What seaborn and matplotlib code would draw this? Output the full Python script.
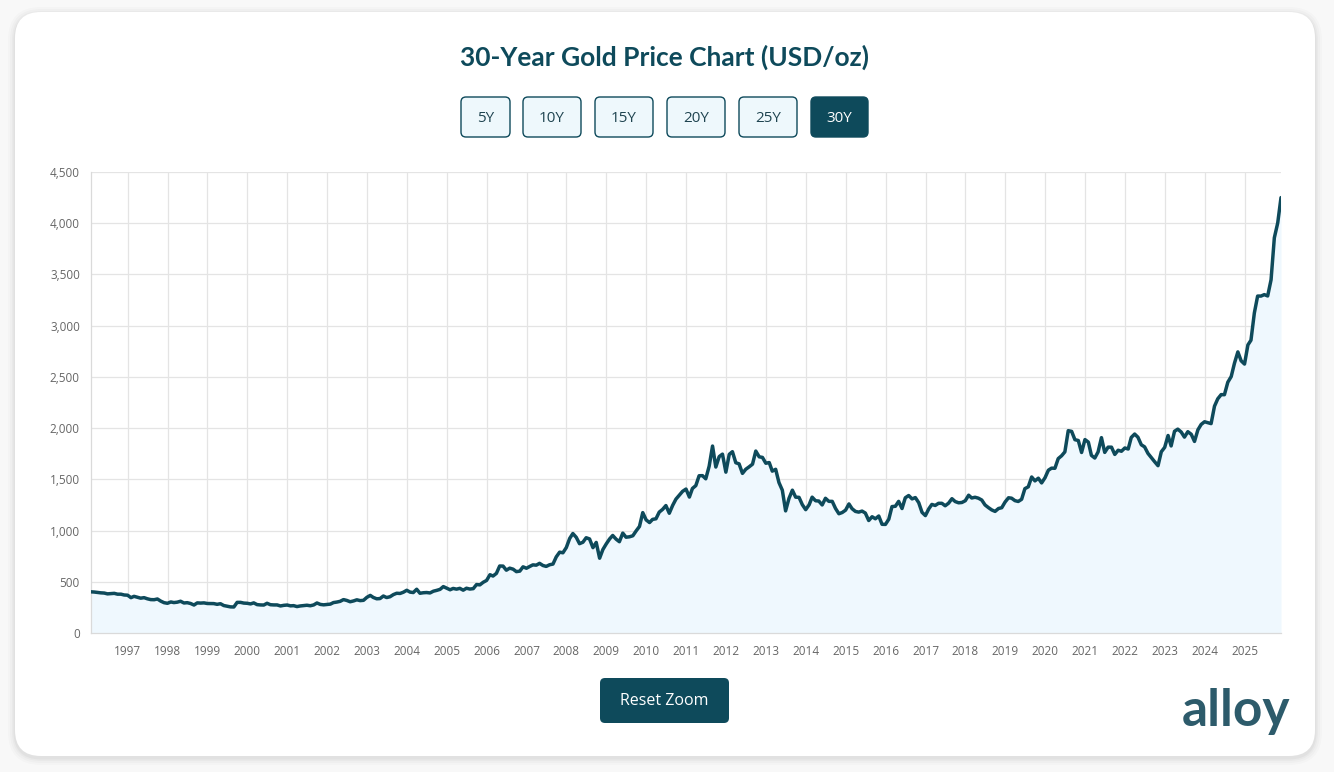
import numpy as np
import pandas as pd
import matplotlib
matplotlib.use("Agg")
import matplotlib.pyplot as plt
import matplotlib.dates as mdates
from matplotlib.patches import FancyBboxPatch
from matplotlib.ticker import FuncFormatter
import seaborn as sns

# ---------------- data: month-end gold price (USD/oz), Jan 1996 - Nov 2025 ----------------
p1996 = [402, 400, 396, 392, 390, 382, 385, 387, 379, 379, 371, 369]
p1997 = [345, 358, 349, 340, 345, 334, 326, 325, 332, 311, 296, 290]
p1998 = [303, 297, 301, 310, 293, 296, 288, 273, 294, 292, 294, 288]
p1999 = [287, 287, 280, 286, 268, 262, 255, 254, 299, 299, 292, 290]
p2000 = [284, 294, 277, 274, 273, 290, 276, 274, 274, 264, 270, 273]
p2001 = [265, 267, 258, 264, 268, 271, 266, 274, 293, 279, 275, 279]
p2002 = [282, 297, 302, 309, 326, 318, 305, 313, 324, 316, 319, 348]
p2003 = [367, 347, 334, 336, 361, 346, 354, 375, 388, 386, 398, 417]
p2004 = [399, 395, 427, 388, 393, 395, 391, 408, 416, 426, 453, 438]
p2005 = [422, 435, 428, 436, 418, 437, 429, 433, 473, 470, 495, 513]
p2006 = [569, 556, 582, 654, 653, 613, 633, 623, 599, 604, 646, 632]
p2007 = [650, 665, 662, 680, 659, 650, 666, 673, 743, 789, 783, 834]
p2008 = [923, 971, 934, 872, 886, 930, 918, 833, 884, 730, 815, 870]
p2009 = [919, 952, 916, 891, 975, 935, 939, 949, 996, 1040, 1175, 1104]
p2010 = [1078, 1109, 1115, 1180, 1207, 1244, 1169, 1246, 1307, 1346, 1383, 1405]
p2011 = [1327, 1411, 1439, 1535, 1536, 1505, 1628, 1825, 1620, 1722, 1746, 1570]
p2012 = [1744, 1770, 1662, 1651, 1558, 1598, 1622, 1648, 1776, 1720, 1714, 1657]
p2013 = [1664, 1580, 1598, 1469, 1394, 1192, 1314, 1394, 1326, 1324, 1253, 1204]
p2014 = [1251, 1326, 1291, 1288, 1250, 1315, 1285, 1285, 1216, 1164, 1176, 1199]
p2015 = [1260, 1214, 1187, 1180, 1190, 1171, 1098, 1135, 1115, 1142, 1061, 1060]
p2016 = [1111, 1234, 1237, 1285, 1215, 1320, 1342, 1309, 1322, 1272, 1178, 1146]
p2017 = [1212, 1255, 1245, 1266, 1266, 1242, 1267, 1311, 1283, 1271, 1274, 1291]
p2018 = [1345, 1318, 1325, 1316, 1298, 1250, 1224, 1201, 1187, 1215, 1223, 1279]
p2019 = [1320, 1316, 1292, 1284, 1305, 1409, 1427, 1523, 1485, 1511, 1465, 1515]
p2020 = [1589, 1609, 1608, 1702, 1730, 1768, 1975, 1968, 1887, 1879, 1762, 1888]
p2021 = [1863, 1734, 1708, 1767, 1907, 1763, 1814, 1814, 1743, 1784, 1774, 1806]
p2022 = [1796, 1909, 1942, 1911, 1837, 1817, 1753, 1711, 1672, 1633, 1769, 1812]
p2023 = [1928, 1826, 1969, 1990, 1962, 1912, 1965, 1940, 1870, 1983, 2036, 2062]
p2024 = [2053, 2044, 2214, 2286, 2327, 2326, 2448, 2503, 2634, 2744, 2657, 2625]
p2025 = [2812, 2858, 3124, 3289, 3289, 3303, 3290, 3448, 3858, 4003, 4250]

prices = (p1996 + p1997 + p1998 + p1999 + p2000 + p2001 + p2002 + p2003 + p2004 +
          p2005 + p2006 + p2007 + p2008 + p2009 + p2010 + p2011 + p2012 + p2013 +
          p2014 + p2015 + p2016 + p2017 + p2018 + p2019 + p2020 + p2021 + p2022 +
          p2023 + p2024 + p2025)
dates = pd.date_range("1996-01-31", periods=len(prices), freq="ME")
df = pd.DataFrame({"date": dates, "price": prices})

year_ticks = list(range(1997, 2026))
y_ticks = list(range(0, 4501, 500))
range_buttons = ["5Y", "10Y", "15Y", "20Y", "25Y", "30Y"]
active_button = "30Y"

# ---------------- style ----------------
DARK = "#0e4a5b"
FILL = "#eff8fe"
GRID = "#e4e4e4"
TICK_TXT = "#666666"

sns.set_theme(style="white")
plt.rcParams["font.family"] = ["Open Sans", "DejaVu Sans"]

W, H = 1334, 772
fig = plt.figure(figsize=(W / 100, H / 100), dpi=100)
fig.patch.set_facecolor("#f8f8f8")

# background / decoration layer in pixel coordinates
bg = fig.add_axes([0, 0, 1, 1], zorder=0)
bg.set_xlim(0, W)
bg.set_ylim(H, 0)
bg.axis("off")

# soft card shadow + card
for pad, a in [(7, 0.015), (5, 0.02), (3, 0.025), (1.5, 0.03)]:
    bg.add_patch(FancyBboxPatch((15 - pad, 12 - pad + 2), 1300 + 2 * pad, 744 + 2 * pad,
                                boxstyle=f"round,pad=0,rounding_size={26 + pad}",
                                facecolor="#000000", edgecolor="none", alpha=a))
bg.add_patch(FancyBboxPatch((15, 12), 1300, 744, boxstyle="round,pad=0,rounding_size=26",
                            facecolor="white", edgecolor="none"))

# title
bg.text(665, 57, "30-Year Gold Price Chart (USD/oz)", ha="center", va="center",
        fontsize=19, fontweight="bold", color=DARK, family=["Lato", "DejaVu Sans"])

# range buttons
btn_left = [461, 523, 595, 667, 739, 811]
btn_width = [49, 58, 58, 58, 58, 57]
for lab, x0, w in zip(range_buttons, btn_left, btn_width):
    active = lab == active_button
    bg.add_patch(FancyBboxPatch((x0, 97), w, 40, boxstyle="round,pad=0,rounding_size=5",
                                facecolor=DARK if active else "#eef8fc",
                                edgecolor=DARK, linewidth=1.0))
    bg.text(x0 + w / 2, 118, lab, ha="center", va="center", fontsize=11,
            color="white" if active else "#1f4450")

# reset zoom button
bg.add_patch(FancyBboxPatch((600, 678), 129, 45, boxstyle="round,pad=0,rounding_size=5",
                            facecolor=DARK, edgecolor="none"))
bg.text(664.5, 701, "Reset Zoom", ha="center", va="center", fontsize=11.5, color="white")

# logo
bg.text(1236, 726, "alloy", ha="center", va="baseline", fontsize=37, fontweight="bold",
        color="#2d5b6b", family=["Lato", "DejaVu Sans"])

# ---------------- main chart ----------------
ax = fig.add_axes([91 / W, 1 - 633 / H, (1281 - 91) / W, (633 - 172) / H], zorder=1)
ax.set_facecolor("white")

ax.fill_between(df["date"], 0, df["price"], color=FILL, linewidth=0, zorder=1)
sns.lineplot(data=df, x="date", y="price", ax=ax, color=DARK, linewidth=2.5, zorder=3)

ax.set_xlim(df["date"].iloc[0], df["date"].iloc[-1])
ax.set_ylim(0, 4500)
ax.set_yticks(y_ticks)
ax.yaxis.set_major_formatter(FuncFormatter(lambda v, p: f"{int(v):,}"))
ax.set_xticks([pd.Timestamp(f"{y}-01-01") for y in year_ticks])
ax.set_xticklabels([str(y) for y in year_ticks])

ax.grid(True, color=GRID, linewidth=0.9, zorder=0)
ax.set_axisbelow(True)
for s in ["top", "right"]:
    ax.spines[s].set_visible(False)
for s in ["left", "bottom"]:
    ax.spines[s].set_color("#dadada")
    ax.spines[s].set_linewidth(0.9)

ax.tick_params(axis="both", which="major", length=6, width=0.9, color=GRID,
               labelsize=8.5, labelcolor=TICK_TXT)
ax.tick_params(axis="x", pad=2.5)
ax.tick_params(axis="y", pad=2)
ax.set_xlabel("")
ax.set_ylabel("")

fig.savefig("out.png", dpi=100, facecolor=fig.get_facecolor())
